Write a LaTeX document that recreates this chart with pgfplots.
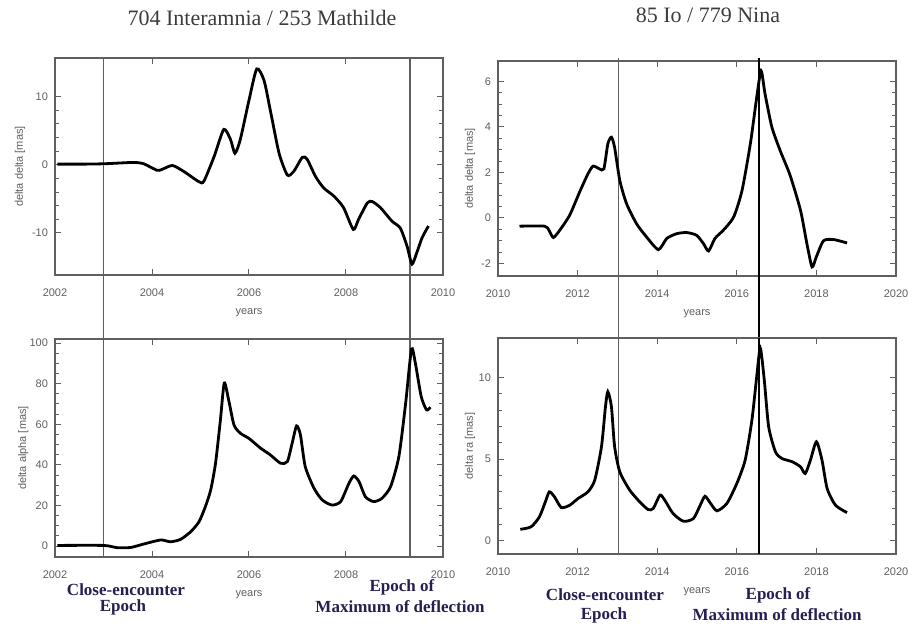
\documentclass[border=0pt]{standalone}
\usepackage{fontspec}
\setmainfont{Liberation Serif}
\newfontfamily\ticksf{Liberation Sans}
\usepackage{pgfplots}
\pgfplotsset{compat=1.18}

\definecolor{framegray}{RGB}{95,95,95}
\definecolor{annot}{RGB}{40,30,80}
\definecolor{titlegray}{RGB}{60,60,60}

% IDL-like boxed panels
\pgfplotsset{
  idl/.style={
    scale only axis,
    clip=false,
    axis line style={framegray, line width=0.6pt},
    tick style={framegray, line width=0.5pt},
    tick align=inside,
    major tick length=3.2pt,
    minor tick length=1.8pt,
    ticklabel style={font=\ticksf\fontsize{5.5}{6}\selectfont, text=framegray},
    xticklabel style={yshift=-3.5pt},
    /pgf/number format/assume math mode=true,
    /pgf/number format/1000 sep={},
    xlabel={years},
    every axis x label/.style={at={(axis description cs:0.5,-0.175)}, anchor=center,
      font=\ticksf\fontsize{5.5}{6}\selectfont, text=framegray},
  },
  ylab/.style={every axis y label/.style={at={(axis description cs:#1,0.5)}, rotate=90, anchor=center,
      font=\ticksf\fontsize{5.5}{6}\selectfont, text=framegray}},
  curve/.style={black, line width=1.4pt, smooth, tension=0.4, no marks},
  epoch/.style={framegray, line width=0.7pt, no marks, forget plot},
  epochbold/.style={black, line width=1.0pt, no marks, forget plot},
}

\begin{document}
\begin{tikzpicture}
\path[use as bounding box] (0,0) rectangle (454.5pt,311.5pt);

% ---------------- top left: delta delta, 704 / 253
\begin{axis}[idl,
  at={(27.5pt,174pt)}, anchor=south west,
  width=194pt, height=108.5pt,
  xmin=2002, xmax=2010, ymin=-16.2, ymax=15.7,
  xtick={2002,2004,...,2010}, ytick={-10,0,10},
  minor x tick num=3, minor y tick num=4,
  ylabel={delta delta [mas]}, ylab=-0.09,
]
\addplot[epoch] coordinates {(2003.0,15.7) (2003.0,-25.6)};
\addplot[epoch] coordinates {(2009.32,15.7) (2009.32,-25.6)};
\addplot[curve] coordinates {
(2002.05,0.1) (2002.6,0.1) (2003.0,0.15) (2003.3,0.25) (2003.63,0.35) (2003.83,0.15)
(2004.1,-0.8) (2004.2,-0.7) (2004.42,-0.1) (2004.66,-1.0) (2004.97,-2.5) (2005.07,-2.4)
(2005.28,1.2) (2005.48,5.2) (2005.62,3.7) (2005.71,1.7) (2005.82,3.7) (2006.0,9.5)
(2006.16,14.1) (2006.31,12.4) (2006.44,8.0) (2006.62,1.7) (2006.79,-1.5) (2006.92,-1.0)
(2007.1,1.1) (2007.2,0.8) (2007.37,-1.7) (2007.54,-3.4) (2007.75,-4.6) (2007.95,-6.3)
(2008.15,-9.5) (2008.26,-8.0) (2008.44,-5.6) (2008.54,-5.4) (2008.71,-6.3) (2008.95,-8.3)
(2009.12,-9.3) (2009.26,-12.0) (2009.36,-14.6) (2009.46,-12.9) (2009.57,-10.7) (2009.7,-9.0)
};
\end{axis}

% ---------------- top right: delta delta, 85 / 779
\begin{axis}[idl,
  at={(249pt,173.5pt)}, anchor=south west,
  width=199pt, height=107.5pt,
  xmin=2010, xmax=2020, ymin=-2.55, ymax=6.9,
  xtick={2010,2012,...,2020}, ytick={-2,0,2,4,6},
  minor x tick num=3, minor y tick num=3,
  ylabel={delta delta [mas]}, ylab=-0.07,
]
\addplot[epoch] coordinates {(2013.02,7.03) (2013.02,-5.28)};
\addplot[epochbold] coordinates {(2016.57,7.03) (2016.57,-5.28)};
\addplot[curve] coordinates {
(2010.54,-0.36) (2011.17,-0.36) (2011.28,-0.54) (2011.39,-0.86) (2011.55,-0.54)
(2011.8,0.12) (2012.05,1.14) (2012.26,1.94) (2012.39,2.28) (2012.55,2.16) (2012.66,2.16)
(2012.76,3.26) (2012.85,3.55) (2012.93,3.1) (2013.06,1.65) (2013.23,0.63) (2013.48,-0.25)
(2013.73,-0.83) (2014.03,-1.39) (2014.24,-0.9) (2014.49,-0.69) (2014.74,-0.64) (2014.99,-0.76)
(2015.16,-1.12) (2015.29,-1.45) (2015.45,-0.9) (2015.66,-0.54) (2015.92,0.04) (2016.13,1.2)
(2016.34,3.26) (2016.5,5.3) (2016.61,6.47) (2016.71,5.45) (2016.88,4.0) (2017.09,2.96)
(2017.34,1.87) (2017.6,0.34) (2017.76,-1.12) (2017.89,-2.15) (2018.0,-1.7) (2018.18,-1.0)
(2018.44,-0.95) (2018.77,-1.1)
};
\end{axis}

% ---------------- bottom left: delta alpha, 704 / 253
\begin{axis}[idl,
  at={(27.5pt,33pt)}, anchor=south west,
  width=194pt, height=109pt,
  xmin=2002, xmax=2010, ymin=-5.4, ymax=102,
  xtick={2002,2004,...,2010}, ytick={0,20,...,100},
  minor x tick num=3, minor y tick num=3,
  ylabel={delta alpha [mas]}, ylab=-0.082,
]
\addplot[epoch] coordinates {(2003.0,-5.4) (2003.0,102)};
\addplot[epoch] coordinates {(2009.32,-5.4) (2009.32,102)};
\addplot[curve] coordinates {
(2002.05,0.3) (2003.0,0.3) (2003.28,-0.8) (2003.56,-0.7) (2003.83,1.0) (2004.18,3.0)
(2004.38,2.1) (2004.59,3.3) (2004.8,7.1) (2004.97,12) (2005.1,19.4) (2005.21,27.6)
(2005.31,40.8) (2005.41,62) (2005.49,80.3) (2005.58,72) (2005.69,59.7) (2005.82,55.6)
(2006.0,53) (2006.24,48.2) (2006.44,44.9) (2006.65,40.8) (2006.79,41.6) (2006.89,50.7)
(2006.98,59.2) (2007.06,54.8) (2007.16,39.1) (2007.34,28.5) (2007.51,22.7) (2007.71,20.2)
(2007.89,21.9) (2008.06,30.9) (2008.16,34.5) (2008.27,31.7) (2008.4,24.3) (2008.57,21.9)
(2008.74,23.5) (2008.92,29.3) (2009.09,44.1) (2009.23,70.4) (2009.35,97) (2009.43,90.1)
(2009.55,73.7) (2009.66,67.1) (2009.74,68.4)
};
\end{axis}

% ---------------- bottom right: delta ra, 85 / 779
\begin{axis}[idl,
  at={(249pt,34.5pt)}, anchor=south west,
  width=199pt, height=108pt,
  xmin=2010, xmax=2020, ymin=-0.8, ymax=12.4,
  xtick={2010,2012,...,2020}, ytick={0,5,10},
  minor x tick num=3, minor y tick num=4,
  ylabel={delta ra [mas]}, ylab=-0.07,
]
\addplot[epoch] coordinates {(2013.02,-0.8) (2013.02,12.4)};
\addplot[epochbold] coordinates {(2016.57,-0.8) (2016.57,12.4)};
\addplot[curve] coordinates {
(2010.56,0.71) (2010.83,0.86) (2011.04,1.47) (2011.19,2.39) (2011.29,3.0) (2011.42,2.69)
(2011.59,2.04) (2011.8,2.18) (2012.01,2.59) (2012.26,3.0) (2012.43,3.71) (2012.6,5.76)
(2012.7,8.2) (2012.76,9.12) (2012.85,8.2) (2012.93,5.76) (2013.06,4.22) (2013.31,3.1)
(2013.56,2.39) (2013.77,1.92) (2013.9,1.98) (2014.07,2.8) (2014.19,2.49) (2014.4,1.67)
(2014.66,1.2) (2014.91,1.37) (2015.08,2.18) (2015.2,2.73) (2015.33,2.33) (2015.5,1.84)
(2015.75,2.29) (2016.0,3.51) (2016.21,4.94) (2016.38,7.39) (2016.5,10.04) (2016.59,11.78)
(2016.69,9.84) (2016.8,6.98) (2016.97,5.45) (2017.13,5.04) (2017.39,4.84) (2017.6,4.53)
(2017.72,4.12) (2017.85,4.94) (2018.0,6.06) (2018.14,4.94) (2018.27,3.2) (2018.48,2.18)
(2018.77,1.73)
};
\end{axis}

% titles
\node[font=\fontsize{11}{13}\selectfont, text=titlegray] at (131pt,302.5pt) {704 Interamnia / 253 Mathilde};
\node[font=\fontsize{11}{13}\selectfont, text=titlegray] at (354pt,304pt) {85 Io / 779 Nina};

% epoch annotations
\tikzset{ann/.style={font=\bfseries\fontsize{8.5}{10}\selectfont, text=annot, inner sep=0pt}}
\node[ann] at (63pt,16.5pt) {Close-encounter};
\node[ann] at (61.5pt,8pt) {Epoch};
\node[ann] at (201pt,18pt) {Epoch of};
\node[ann] at (200pt,8pt) {Maximum of deflection};
\node[ann] at (302.5pt,14pt) {Close-encounter};
\node[ann] at (302pt,4pt) {Epoch};
\node[ann] at (389pt,14pt) {Epoch of};
\node[ann] at (388.5pt,4pt) {Maximum of deflection};
\end{tikzpicture}
\end{document}
